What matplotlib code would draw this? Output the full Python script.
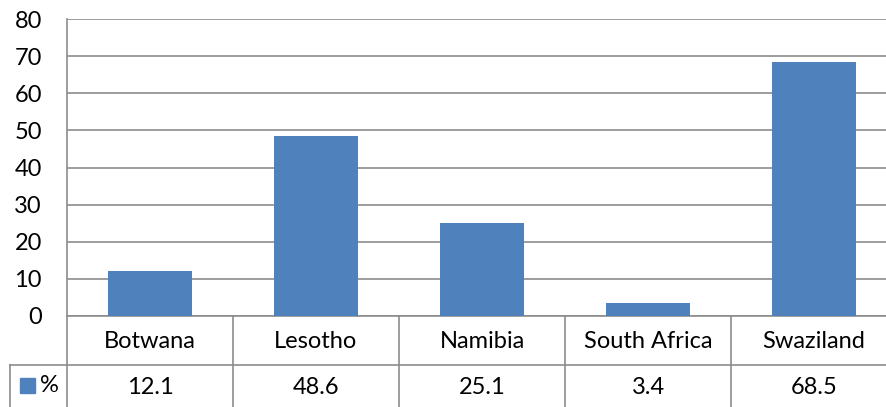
import matplotlib.pyplot as plt
import numpy as np

plt.rcParams['font.family'] = ['Lato', 'DejaVu Sans']

countries = ["Botwana", "Lesotho", "Namibia", "South Africa", "Swaziland"]
values = [12.1, 48.6, 25.1, 3.4, 68.5]
value_labels = ["12.1", "48.6", "25.1", "3.4", "68.5"]
series_name = "%"
yticks = [0, 10, 20, 30, 40, 50, 60, 70, 80]

BAR_COLOR = "#4F81BD"
LINE_COLOR = "#8c8c8c"
FS = 17
W, H = 886, 407

fig = plt.figure(figsize=(W / 100, H / 100), dpi=100)
# plot area in pixels: left 67, top 19, bottom 316, category width 166
ax = fig.add_axes([67 / W, (H - 316) / H, 830 / W, (316 - 19) / H])

x = np.arange(len(countries))
ax.bar(x, values, width=0.51, color=BAR_COLOR, zorder=3)
ax.set_xlim(-0.5, len(countries) - 0.5)
ax.set_ylim(0, 80)
ax.set_yticks(yticks)
ax.set_yticklabels([str(t) for t in yticks], fontsize=FS)
ax.tick_params(axis='y', length=0, pad=18)
ax.set_xticks([])
ax.yaxis.grid(True, color=LINE_COLOR, linewidth=1.2, zorder=0)
for s in ["top", "right"]:
    ax.spines[s].set_visible(False)
for s in ["left", "bottom"]:
    ax.spines[s].set_color(LINE_COLOR)
    ax.spines[s].set_linewidth(1.2)

# data table under the chart
tr = ax.get_xaxis_transform()
px = 297.0  # axes height in pixels
row1_bot = -(365 - 316) / px
tab_bot = -(420 - 316) / px
left_edge = -0.5 - 57 / 166

# left spine continues through the table
ax.plot([-0.5, -0.5], [0, tab_bot], transform=tr, color=LINE_COLOR, lw=1.2, clip_on=False)
for k in range(1, len(countries)):
    ax.plot([k - 0.5, k - 0.5], [0, tab_bot], transform=tr, color=LINE_COLOR, lw=1.2, clip_on=False)
ax.plot([left_edge, len(countries)], [row1_bot, row1_bot], transform=tr, color=LINE_COLOR, lw=1.2, clip_on=False)
ax.plot([left_edge, left_edge], [row1_bot, tab_bot], transform=tr, color=LINE_COLOR, lw=1.2, clip_on=False)

y1 = -(342 - 316) / px
y2 = -(387 - 316) / px
for i, c in enumerate(countries):
    ax.text(i, y1, c, transform=tr, ha='center', va='center', fontsize=FS)
    ax.text(i, y2, value_labels[i], transform=tr, ha='center', va='center', fontsize=FS)

# legend key
fig.patches.append(plt.Rectangle((20 / W, (H - 393) / H), 15 / W, 15 / H,
                                 transform=fig.transFigure, color=BAR_COLOR))
fig.text(40 / W, (H - 386) / H, series_name, ha='left', va='center', fontsize=FS)

plt.savefig("out.png", dpi=100)
